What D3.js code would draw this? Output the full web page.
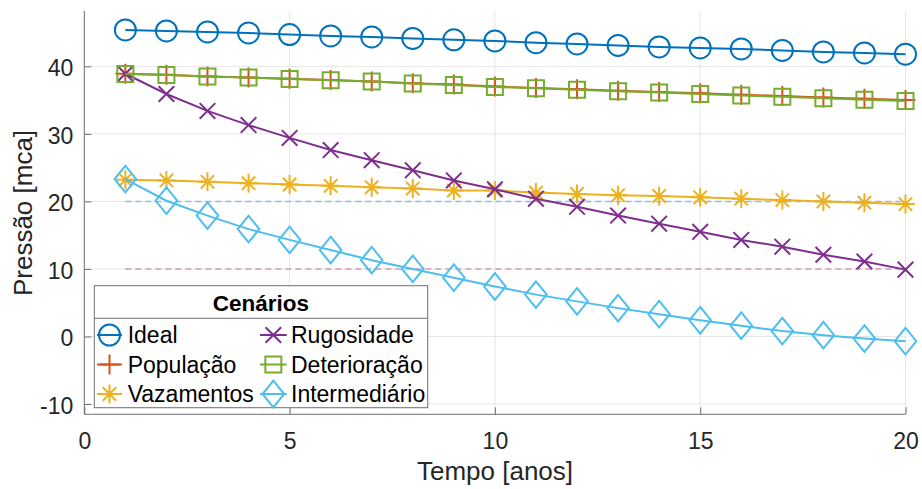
<!DOCTYPE html>
<html><head><meta charset="utf-8">
<script src="https://cdn.jsdelivr.net/npm/d3@7"></script>
<style>body{margin:0;background:#fff}svg{display:block;font-family:"Liberation Sans",Arial,sans-serif}</style>
</head><body>
<svg id="c" width="922" height="489"></svg>
<script>
const years = d3.range(1, 21);
const ideal = [45.38,45.24,45.09,44.94,44.70,44.50,44.35,44.13,43.92,43.76,43.50,43.31,43.09,42.87,42.72,42.57,42.35,42.13,41.98,41.80];
const populacao = [38.90,38.75,38.50,38.35,38.16,37.97,37.77,37.48,37.29,37.00,36.80,36.60,36.40,36.20,36.00,35.80,35.60,35.40,35.20,35.00];
const vazamentos = [23.2,23.1,22.9,22.7,22.5,22.3,22.1,21.9,21.6,21.6,21.3,21.1,20.9,20.8,20.6,20.4,20.2,20.0,19.8,19.6];
const rugosidade = [38.9,35.9,33.4,31.3,29.4,27.6,26.1,24.6,23.1,21.8,20.4,19.2,17.9,16.7,15.5,14.3,13.3,12.1,11.1,9.9];
const deterioracao = [38.88,38.73,38.48,38.33,38.14,37.94,37.74,37.44,37.25,36.95,36.74,36.53,36.32,36.11,35.90,35.69,35.48,35.27,35.06,34.85];
const intermediario = [23.3,20.1,17.9,15.9,14.3,12.8,11.3,10.0,8.7,7.4,6.2,5.2,4.2,3.3,2.4,1.6,0.8,0.2,-0.3,-0.7];
const limits = [20, 10];
const xTicks = [0, 5, 10, 15, 20];
const yTicks = [-10, 0, 10, 20, 30, 40];
const seriesNames = ["Ideal","População","Vazamentos","Rugosidade","Deterioração","Intermediário"];
const seriesData = [ideal, populacao, vazamentos, rugosidade, deterioracao, intermediario];
const colors = ["#0072BD","#D95319","#EDB120","#7E2F8E","#77AC30","#4DBEEE"];
const markers = ["circle","plus","star","x","square","diamond"];
const limitColors = ["#8dbde3","#d39bb0"];

const svg = d3.select("#c");
const x = d3.scaleLinear().domain([0, 20]).range([84.3, 905.5]);
const y = d3.scaleLinear().domain([-11.52, 48.19]).range([414.3, 11]);

function markerPath(m) {
  const p = d3.path();
  if (m === "circle") { p.moveTo(10.5,0); p.arc(0,0,10.5,0,2*Math.PI); }
  else if (m === "plus") { p.moveTo(-10,0); p.lineTo(10,0); p.moveTo(0,-10); p.lineTo(0,10); }
  else if (m === "star") { const a=9.5,b=6.7; p.moveTo(-a,0);p.lineTo(a,0);p.moveTo(0,-a);p.lineTo(0,a);p.moveTo(-b,-b);p.lineTo(b,b);p.moveTo(-b,b);p.lineTo(b,-b); }
  else if (m === "x") { const b=7.8; p.moveTo(-b,-b);p.lineTo(b,b);p.moveTo(-b,b);p.lineTo(b,-b); }
  else if (m === "square") { p.rect(-8,-8,16,16); }
  else if (m === "diamond") { p.moveTo(0,-13.3);p.lineTo(10.8,0);p.lineTo(0,13.3);p.lineTo(-10.8,0);p.closePath(); }
  return p.toString();
}

// grid
const g = svg.append("g");
g.selectAll(".gx").data(xTicks).join("line")
  .attr("x1", d => x(d)).attr("x2", d => x(d)).attr("y1", y.range()[0]).attr("y2", y.range()[1])
  .attr("stroke", "#e6e6e6").attr("stroke-width", 1);
g.selectAll(".gy").data(yTicks).join("line")
  .attr("y1", d => y(d)).attr("y2", d => y(d)).attr("x1", x.range()[0]).attr("x2", x.range()[1])
  .attr("stroke", "#e6e6e6").attr("stroke-width", 1);

// axes
const xAxis = d3.axisBottom(x).tickValues(xTicks).tickSize(-7).tickPadding(19).tickFormat(d3.format("d"));
const yAxis = d3.axisLeft(y).tickValues(yTicks).tickSize(-7).tickPadding(11).tickFormat(d => d < 0 ? "-" + Math.abs(d) : String(d));
const ax = svg.append("g").attr("transform", `translate(0,${y.range()[0]})`).call(xAxis);
const ay = svg.append("g").attr("transform", `translate(${x.range()[0]},0)`).call(yAxis);
[ax, ay].forEach(a => {
  a.select(".domain").attr("stroke", "#707070").attr("stroke-width", 1);
  a.selectAll(".tick line").attr("stroke", "#707070");
  a.selectAll("text").attr("font-size", 23).attr("fill", "#262626").attr("font-family", "Liberation Sans, Arial, sans-serif");
});
ay.selectAll(".tick text").attr("dy", "0.4em");
ax.selectAll(".tick text").attr("dy", "0.68em");
ax.select(".domain").attr("d", `M${x.range()[0]},0H${x.range()[1]}`);
ay.select(".domain").attr("d", `M0,${y.range()[0]}V${y.range()[1]}`);

// labels
svg.append("text").attr("x", 495).attr("y", 480).attr("text-anchor", "middle")
  .attr("font-size", 26).attr("fill", "#262626").text("Tempo [anos]");
svg.append("text").attr("transform", "translate(32,213) rotate(-90)").attr("text-anchor", "middle")
  .attr("font-size", 26).attr("fill", "#262626").text("Pressão [mca]");

// limit dashed lines
limits.forEach((v, i) => {
  svg.append("line").attr("x1", x(years[0])).attr("x2", x(years[years.length-1]))
    .attr("y1", y(v)).attr("y2", y(v)).attr("stroke", limitColors[i]).attr("stroke-width", 1.5)
    .attr("stroke-dasharray", "6,4");
});

// series
const line = d3.line().x((d, i) => x(years[i])).y(d => y(d));
seriesData.forEach((s, k) => {
  const sg = svg.append("g");
  sg.append("path").attr("d", line(s)).attr("fill", "none").attr("stroke", colors[k]).attr("stroke-width", 2);
  sg.selectAll("path.m").data(s).join("path").attr("class", "m")
    .attr("transform", (d, i) => `translate(${x(years[i])},${y(d)})`)
    .attr("d", markerPath(markers[k])).attr("fill", "none").attr("stroke", colors[k]).attr("stroke-width", 2);
});

// legend
const lg = svg.append("g");
lg.append("rect").attr("x", 94.3).attr("y", 285.7).attr("width", 333.4).attr("height", 122)
  .attr("fill", "#fff").attr("stroke", "#707070").attr("stroke-width", 1);
lg.append("line").attr("x1", 94.3).attr("x2", 427.7).attr("y1", 318.3).attr("y2", 318.3)
  .attr("stroke", "#707070").attr("stroke-width", 1);
lg.append("text").attr("x", 261).attr("y", 310.7).attr("text-anchor", "middle").attr("font-size", 22.5)
  .attr("font-weight", "bold").attr("fill", "#000").text("Cenários");
const colX = [{l0: 97, l1: 122, t: 127.7}, {l0: 260, l1: 286.7, t: 291}];
const rowY = [335, 364.5, 394];
seriesNames.forEach((n, k) => {
  const c = colX[Math.floor(k / 3)], ry = rowY[k % 3];
  const e = lg.append("g");
  e.append("line").attr("x1", c.l0).attr("x2", c.l1).attr("y1", ry).attr("y2", ry)
    .attr("stroke", colors[k]).attr("stroke-width", 2);
  e.append("path").attr("transform", `translate(${(c.l0 + c.l1) / 2},${ry})`).attr("d", markerPath(markers[k]))
    .attr("fill", "none").attr("stroke", colors[k]).attr("stroke-width", 2);
  e.append("text").attr("x", c.t).attr("y", ry + 8.3).attr("font-size", 23).attr("fill", "#000").text(n);
});
</script>
</body></html>
